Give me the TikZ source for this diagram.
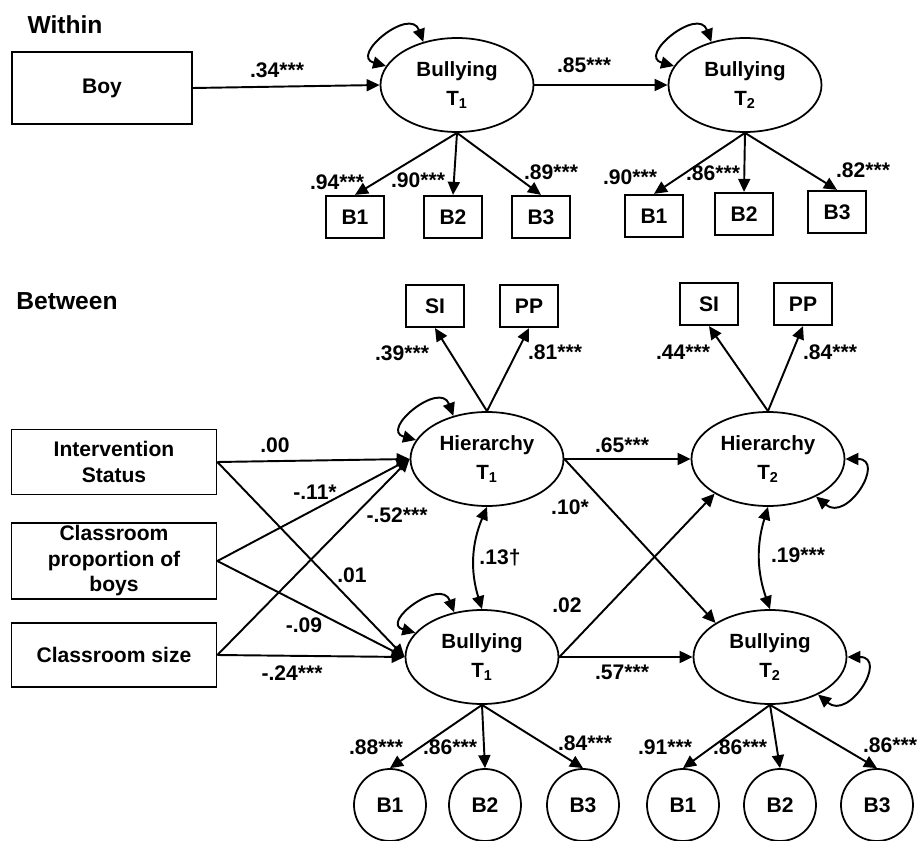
\documentclass[tikz,border=0pt]{standalone}
\usepackage{fontspec}
\setmainfont{Liberation Sans}
\usepackage{tikz}
\usetikzlibrary{shapes.geometric, arrows.meta}

\newcommand{\boxFont}{\fontsize{12}{14.5}\selectfont\bfseries}
\newcommand{\ellFont}{\fontsize{11.7}{16.5}\selectfont\bfseries}
\newcommand{\headFont}{\fontsize{14}{16}\selectfont\bfseries}

\begin{document}
\begin{tikzpicture}[x=0.2mm, y=0.2mm,
    % ── boxes, ellipses, circles ──
    obsBox/.style  = {draw, line width=1pt, minimum width=11.6mm,
                      minimum height=8.5mm, inner sep=0pt, font=\boxFont},
    sideBox/.style = {draw, line width=1pt, minimum width=41mm,
                      inner sep=1pt, align=center, font=\boxFont},
    latEll/.style  = {ellipse, draw, line width=1pt, minimum width=30.6mm,
                      minimum height=18.8mm, inner sep=0pt, align=center,
                      font=\ellFont},
    indCirc/.style = {circle, draw, line width=1pt, minimum size=14.4mm,
                      inner sep=0pt, font=\boxFont},
    % ── arrows ──
    arr/.style     = {-{Triangle[length=2.6mm, width=2.4mm]}, line width=1.1pt},
    dArr/.style    = {{Triangle[length=2.6mm, width=2.4mm]}-{Triangle[length=2.6mm, width=2.4mm]},
                      line width=1.1pt},
    % ── text ──
    coef/.style    = {font=\boxFont, inner sep=0pt},
    head/.style    = {font=\headFont, inner sep=0pt},
]
\useasboundingbox (0,0) rectangle (917,-841);

% =====================================================================
% WITHIN level
% =====================================================================
\node[head] at (65,-25) {Within};

\node[sideBox, minimum width=36mm, minimum height=14.4mm] (boy) at (102,-88) {Boy};
\node[latEll] (wb1) at (457,-85) {Bullying\\T\textsubscript{1}};
\node[latEll] (wb2) at (745,-85) {Bullying\\T\textsubscript{2}};

\foreach \i/\x/\y in {1/355/217, 2/453/217, 3/541/217}
  \node[obsBox] (w1b\i) at (\x,-\y) {B\i};
\foreach \i/\x/\y in {1/654/216, 2/744/214, 3/837/212}
  \node[obsBox] (w2b\i) at (\x,-\y) {B\i};

\draw[arr] (boy.east) -- (wb1.west);
\draw[arr] (wb1.east) -- (wb2.west);
\foreach \i in {1,2,3}{
  \draw[arr] (wb1.south) -- (w1b\i.north);
  \draw[arr] (wb2.south) -- (w2b\i.north);
}

% residual variances
\draw[dArr] (wb1.128) to[out=110, in=165, looseness=2.2] (wb1.165);
\draw[dArr] (wb2.128) to[out=110, in=165, looseness=2.2] (wb2.165);

\node[coef] at (277,-70)  {.34***};
\node[coef] at (584,-65)  {.85***};
\node[coef] at (337,-182) {.94***};
\node[coef] at (418,-180) {.90***};
\node[coef] at (551,-172) {.89***};
\node[coef] at (630,-177) {.90***};
\node[coef] at (713,-173) {.86***};
\node[coef] at (863,-170) {.82***};

% =====================================================================
% BETWEEN level
% =====================================================================
\node[head] at (67,-301) {Between};

% hierarchy indicators
\node[obsBox] (si1) at (435,-306) {SI};
\node[obsBox] (pp1) at (529,-306) {PP};
\node[obsBox] (si2) at (709,-304) {SI};
\node[obsBox] (pp2) at (803,-304) {PP};

% latent factors
\node[latEll] (h1) at (487,-459) {Hierarchy\\T\textsubscript{1}};
\node[latEll] (h2) at (768,-459) {Hierarchy\\T\textsubscript{2}};
\node[latEll] (b1) at (482,-657) {Bullying\\T\textsubscript{1}};
\node[latEll] (b2) at (770,-657) {Bullying\\T\textsubscript{2}};

% classroom covariates
\node[sideBox, minimum height=13mm]   (int)  at (114,-462) {Intervention\\Status};
\node[sideBox, minimum height=15.2mm] (prop) at (114,-561) {Classroom\\proportion of\\boys};
\node[sideBox, minimum height=12.8mm] (size) at (114,-655) {Classroom size};

% bullying indicators
\foreach \i/\x in {1/390, 2/485, 3/583}
  \node[indCirc] (b1c\i) at (\x,-805) {B\i};
\foreach \i/\x in {1/683, 2/780, 3/877}
  \node[indCirc] (b2c\i) at (\x,-805) {B\i};

% loadings
\draw[arr] (h1.north) -- (si1.south);
\draw[arr] (h1.north) -- (pp1.south);
\draw[arr] (h2.north) -- (si2.south);
\draw[arr] (h2.north) -- (pp2.south);
\foreach \i in {1,2,3}{
  \draw[arr] (b1.south) -- (b1c\i.north);
  \draw[arr] (b2.south) -- (b2c\i.north);
}

% covariate paths
\foreach \s in {int, prop, size}{
  \draw[arr] (\s.east) -- (h1.west);
  \draw[arr] (\s.east) -- (b1.west);
}

% stability and cross-lagged paths
\draw[arr] (h1.east) -- (h2.west);
\draw[arr] (h1.east) -- (b2.148);
\draw[arr] (b1.east) -- (h2.213);
\draw[arr] (b1.east) -- (b2.west);

% covariances
\draw[dArr] (h1.south) to[bend right=20] (b1.north);
\draw[dArr] (h2.south) to[bend right=18] (b2.north);

% residual variances
\draw[dArr] (h1.128) to[out=110, in=165, looseness=2.2] (h1.165);
\draw[dArr] (b1.122) to[out=110, in=165, looseness=2.2] (b1.160);
\draw[dArr] (h2.0) to[out=0, in=-40, looseness=2.2] (h2.-38);
\draw[dArr] (b2.0) to[out=0, in=-40, looseness=2.2] (b2.-38);

% coefficients
\node[coef] at (402,-353) {.39***};
\node[coef] at (555,-352) {.81***};
\node[coef] at (683,-352) {.44***};
\node[coef] at (830,-352) {.84***};
\node[coef] at (275,-445) {.00};
\node[coef] at (315,-492) {-.11*};
\node[coef] at (397,-515) {-.52***};
\node[coef] at (352,-575) {.01};
\node[coef] at (304,-625) {-.09};
\node[coef] at (292,-673) {-.24***};
\node[coef] at (622,-445) {.65***};
\node[coef] at (570,-507) {.10*};
\node[coef] at (500,-558) {.13†};
\node[coef] at (798,-555) {.19***};
\node[coef] at (567,-605) {.02};
\node[coef] at (622,-672) {.57***};
\node[coef] at (376,-747) {.88***};
\node[coef] at (450,-747) {.86***};
\node[coef] at (585,-743) {.84***};
\node[coef] at (665,-747) {.91***};
\node[coef] at (740,-747) {.86***};
\node[coef] at (890,-745) {.86***};

\end{tikzpicture}
\end{document}
